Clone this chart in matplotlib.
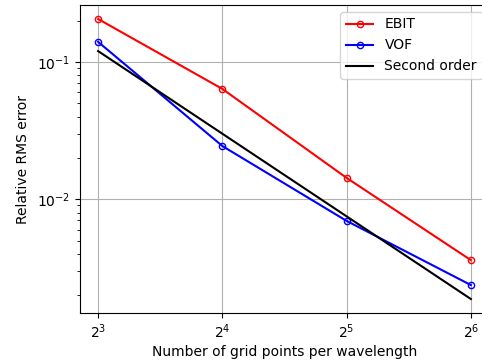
import matplotlib
matplotlib.use("Agg")
import matplotlib.pyplot as plt
import numpy as np

# Grid resolution (points per wavelength) and relative RMS errors
grid_points = [8, 16, 32, 64]
ebit_error = [0.2056, 0.0636, 0.0143, 0.0036]
vof_error = [0.140, 0.0244, 0.00695, 0.00237]
second_order = [0.12, 0.03, 0.0075, 0.001875]

fig = plt.figure(figsize=(4.82, 3.64), dpi=100)
ax = fig.add_axes([79.5 / 482, 51 / 364, 410 / 482, 308 / 364])

ax.plot(grid_points, ebit_error, color="r", marker="o", markersize=4.5,
        fillstyle="none", label="EBIT")
ax.plot(grid_points, vof_error, color="b", marker="o", markersize=4.5,
        fillstyle="none", label="VOF")
ax.plot(grid_points, second_order, color="k", label="Second order")

ax.set_xscale("log", base=2)
ax.set_yscale("log")
ax.set_xticks(grid_points)
ax.grid(True)
ax.set_xlabel("Number of grid points per wavelength", labelpad=2.5)
ax.set_ylabel("Relative RMS error", labelpad=5)
ax.legend(loc="upper right")

fig.savefig("out.png", dpi=100)
